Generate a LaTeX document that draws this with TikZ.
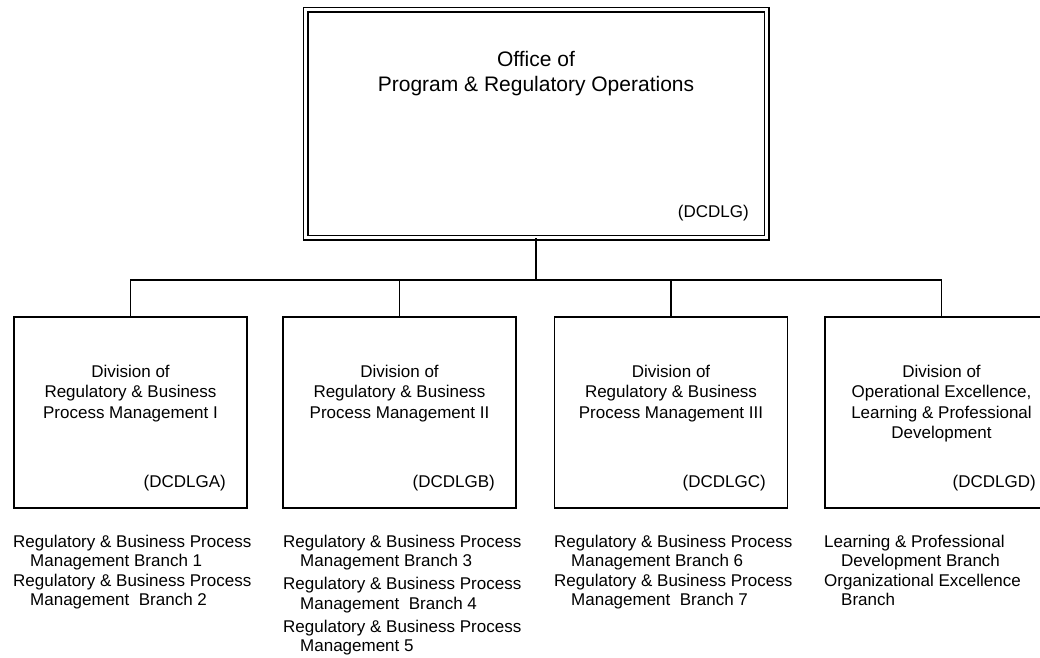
\documentclass[tikz,border=0pt]{standalone}
\usepackage{fontspec}
\setmainfont{Liberation Sans}
\begin{document}
\begin{tikzpicture}[x=1pt,y=-1pt,
  frame/.style={draw, line width=1.8pt, minimum width=233pt, minimum height=191pt, inner sep=0pt},
  topframe/.style={draw, double, double distance=3.2pt, line width=1.4pt, minimum width=461pt, minimum height=228pt, inner sep=0pt},
  boxtxt/.style={inner sep=0pt, anchor=north, align=center, font=\fontsize{17}{20.5}\selectfont},
  codetxt/.style={inner sep=0pt, anchor=base east, font=\fontsize{17}{20.5}\selectfont},
  listtxt/.style={inner sep=0pt, anchor=north west, align=left, font=\fontsize{17}{19.5}\selectfont},
  bigtxt/.style={inner sep=0pt, anchor=north, align=center, font=\fontsize{21}{25}\selectfont},
  conn/.style={line width=1.8pt}]
\useasboundingbox (0,0) rectangle (1040,657);
\clip (0,0) rectangle (1040,657);
\fill[white] (0,0) rectangle (1040,657);

% top office
\node[topframe] (top) at (536,123.5) {};
\node[bigtxt] (toptxt) at (536,50.7) {Office of\\Program \& Regulatory Operations};
\node[codetxt] (topcode) at (749,217) {(DCDLG)};

% divisions
\node[frame] (b1) at (130.5,412.5) {};
\node[frame] (b2) at (399.5,412.5) {};
\node[frame] (b3) at (671,412.5) {};
\node[frame] (b4) at (941.5,412.5) {};

\node[boxtxt] (t1) at (130.5,364.6) {Division of\\Regulatory \& Business\\Process Management I};
\node[boxtxt] (t2) at (399.5,364.6) {Division of\\Regulatory \& Business\\Process Management II};
\node[boxtxt] (t3) at (671,364.6) {Division of\\Regulatory \& Business\\Process Management III};
\node[boxtxt] (t4) at (941.5,364.6) {Division of\\Operational Excellence,\\Learning \& Professional\\Development};

\node[codetxt] (c1) at (226,487) {(DCDLGA)};
\node[codetxt] (c2) at (495,487) {(DCDLGB)};
\node[codetxt] (c3) at (766,487) {(DCDLGC)};
\node[codetxt] (c4) at (1036,487) {(DCDLGD)};

% connectors
\draw[conn] (top.south) -- ++(0,41.5) coordinate (j);
\draw[conn] (b1.north) |- (j);
\draw[conn] (b2.north) |- (j);
\draw[conn] (b3.north) |- (j);
\draw[conn] (b4.north) |- (j);

% branch lists
\node[listtxt] (l1) at (13,534.6) {Regulatory \& Business Process\\\hspace*{17pt}Management Branch 1\\Regulatory \& Business Process\\\hspace*{17pt}Management~ Branch 2};
\node[listtxt] (l2) at (283,534.6) {Regulatory \& Business Process\\\hspace*{17pt}Management Branch 3\\[3.5pt]Regulatory \& Business Process\\\hspace*{17pt}Management~ Branch 4\\[3.5pt]Regulatory \& Business Process\\\hspace*{17pt}Management 5};
\node[listtxt] (l3) at (554,534.6) {Regulatory \& Business Process\\\hspace*{17pt}Management Branch 6\\Regulatory \& Business Process\\\hspace*{17pt}Management~ Branch 7};
\node[listtxt] (l4) at (824,534.6) {Learning \& Professional\\\hspace*{17pt}Development Branch\\Organizational Excellence\\\hspace*{17pt}Branch};
\end{tikzpicture}
\end{document}
